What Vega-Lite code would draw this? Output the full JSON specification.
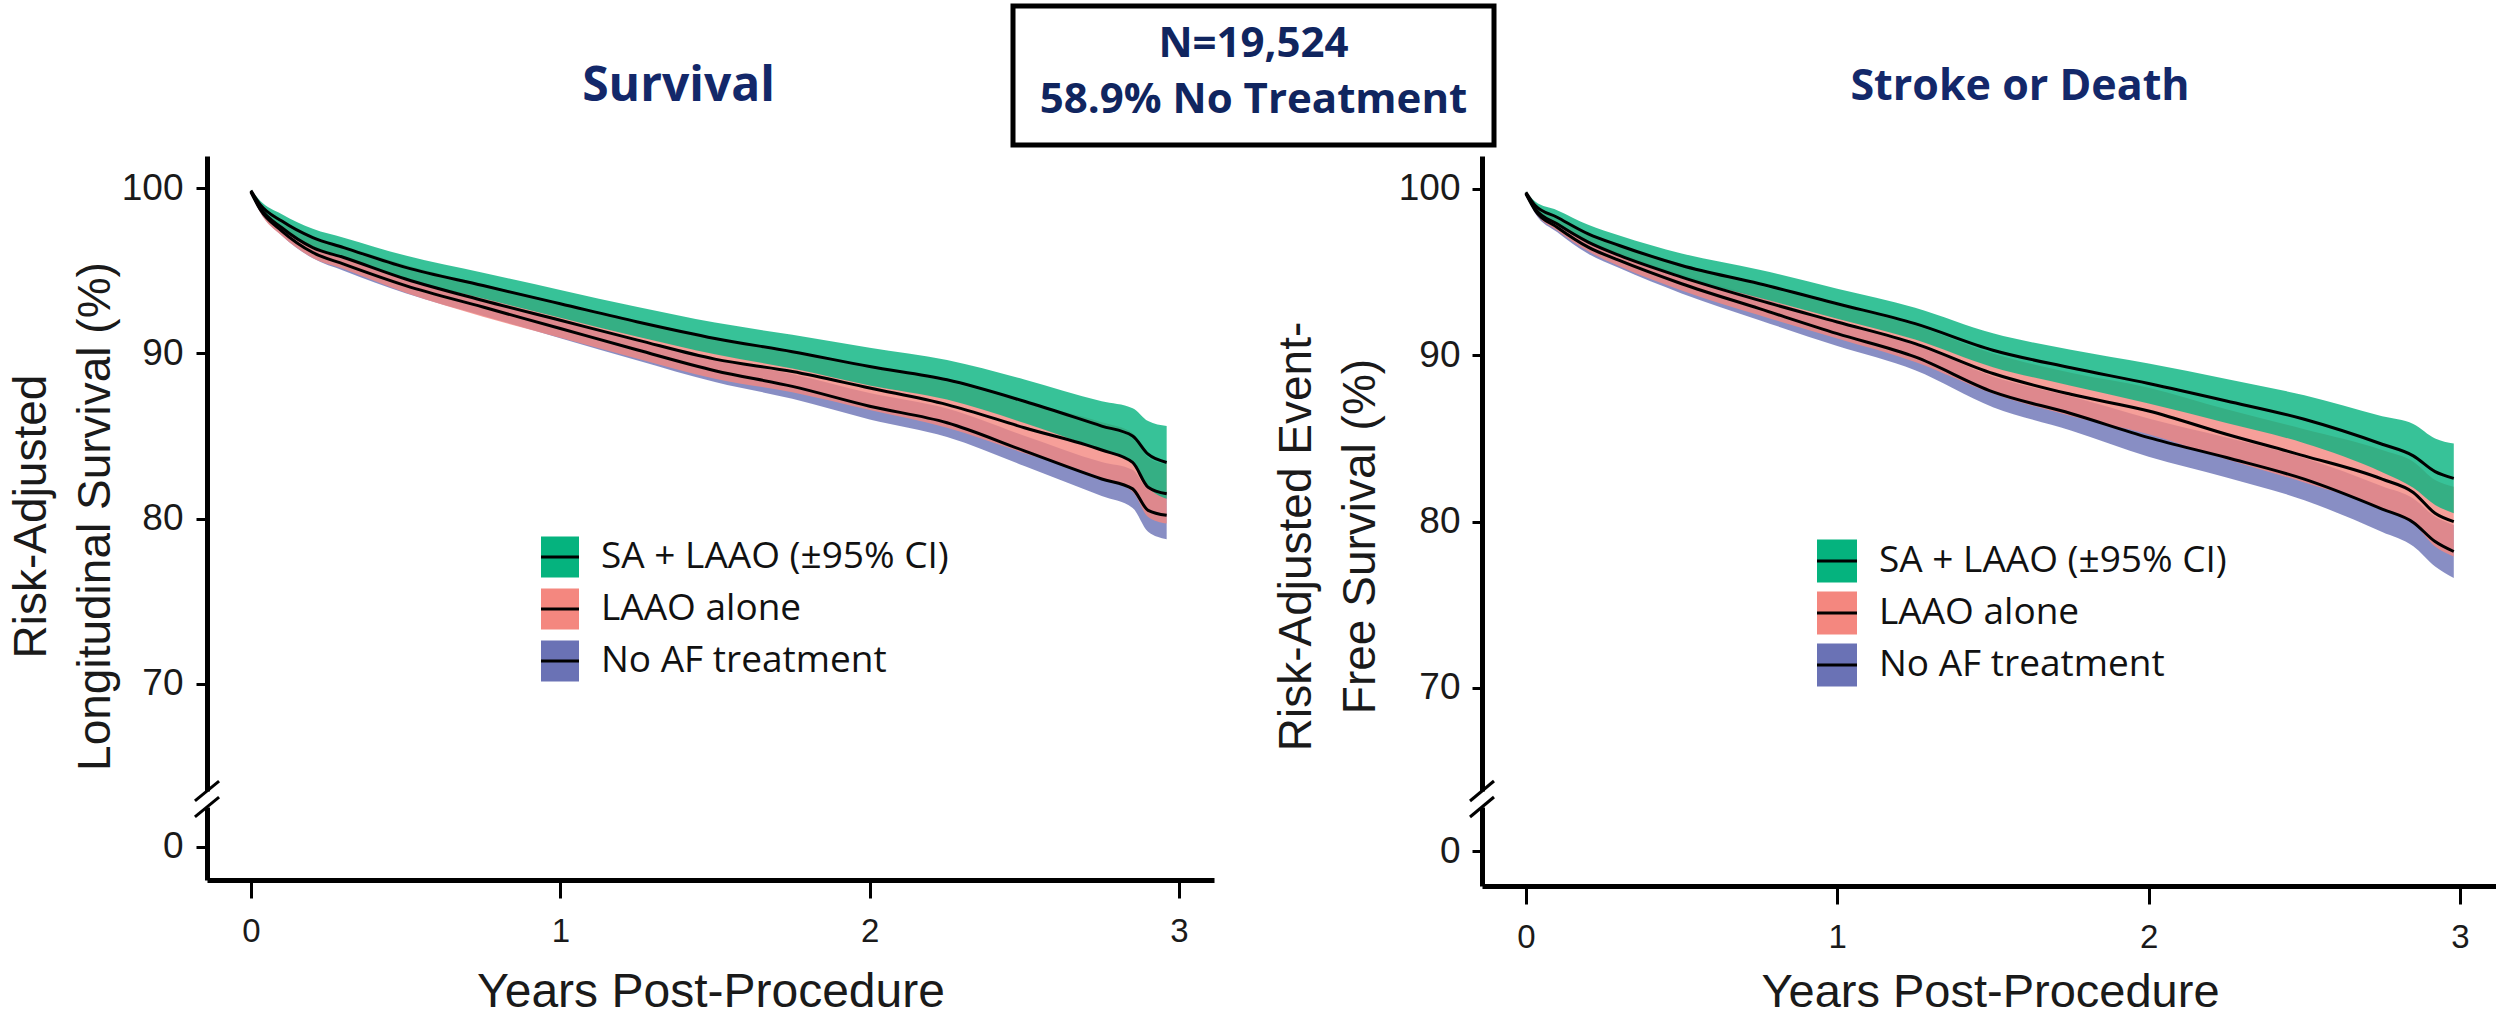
{
  "$schema": "https://vega.github.io/schema/vega-lite/v6.json",
  "padding": {"left": 8, "top": 3, "right": 0, "bottom": 0},
  "config": {
    "view": {"stroke": null},
    "font": "Liberation Sans",
    "axis": {"labelFont": "Liberation Sans", "titleFont": "Liberation Sans", "labelColor": "#1a1a1a", "titleColor": "#1a1a1a", "domainColor": "#000", "tickColor": "#000", "titleFontWeight": "normal", "grid": false, "labelFlush": false, "labelOverlap": false}
  },
  "datasets": {
    "surv": [
      {"group": "No AF treatment", "t": 0, "mid": 99.75, "lo": 99.69, "hi": 99.81},
      {"group": "No AF treatment", "t": 0.03, "mid": 98.7, "lo": 98.53, "hi": 98.87},
      {"group": "No AF treatment", "t": 0.1, "mid": 97.4, "lo": 97.11, "hi": 97.69},
      {"group": "No AF treatment", "t": 0.2, "mid": 96.1, "lo": 95.75, "hi": 96.45},
      {"group": "No AF treatment", "t": 0.3, "mid": 95.4, "lo": 95.0, "hi": 95.8},
      {"group": "No AF treatment", "t": 0.5, "mid": 94.1, "lo": 93.64, "hi": 94.56},
      {"group": "No AF treatment", "t": 0.75, "mid": 92.8, "lo": 92.28, "hi": 93.32},
      {"group": "No AF treatment", "t": 1, "mid": 91.5, "lo": 90.92, "hi": 92.08},
      {"group": "No AF treatment", "t": 1.25, "mid": 90.2, "lo": 89.57, "hi": 90.83},
      {"group": "No AF treatment", "t": 1.5, "mid": 88.95, "lo": 88.26, "hi": 89.64},
      {"group": "No AF treatment", "t": 1.75, "mid": 88, "lo": 87.25, "hi": 88.75},
      {"group": "No AF treatment", "t": 2, "mid": 86.8, "lo": 86.0, "hi": 87.6},
      {"group": "No AF treatment", "t": 2.25, "mid": 85.8, "lo": 84.94, "hi": 86.66},
      {"group": "No AF treatment", "t": 2.5, "mid": 84.1, "lo": 83.18, "hi": 85.02},
      {"group": "No AF treatment", "t": 2.75, "mid": 82.4, "lo": 81.37, "hi": 83.43},
      {"group": "No AF treatment", "t": 2.85, "mid": 81.8, "lo": 80.65, "hi": 82.95},
      {"group": "No AF treatment", "t": 2.9, "mid": 80.5, "lo": 79.2, "hi": 81.8},
      {"group": "No AF treatment", "t": 2.96, "mid": 80.2, "lo": 78.75, "hi": 81.65},
      {"group": "LAAO alone", "t": 0, "mid": 99.8, "lo": 99.73, "hi": 99.87},
      {"group": "LAAO alone", "t": 0.03, "mid": 98.8, "lo": 98.52, "hi": 99.08},
      {"group": "LAAO alone", "t": 0.1, "mid": 97.6, "lo": 97.11, "hi": 98.09},
      {"group": "LAAO alone", "t": 0.2, "mid": 96.4, "lo": 95.77, "hi": 97.03},
      {"group": "LAAO alone", "t": 0.3, "mid": 95.8, "lo": 95.1, "hi": 96.5},
      {"group": "LAAO alone", "t": 0.5, "mid": 94.5, "lo": 93.66, "hi": 95.34},
      {"group": "LAAO alone", "t": 0.75, "mid": 93.2, "lo": 92.22, "hi": 94.18},
      {"group": "LAAO alone", "t": 1, "mid": 92, "lo": 90.95, "hi": 93.05},
      {"group": "LAAO alone", "t": 1.25, "mid": 90.8, "lo": 89.68, "hi": 91.92},
      {"group": "LAAO alone", "t": 1.5, "mid": 89.65, "lo": 88.46, "hi": 90.84},
      {"group": "LAAO alone", "t": 1.75, "mid": 88.9, "lo": 87.64, "hi": 90.16},
      {"group": "LAAO alone", "t": 2, "mid": 87.9, "lo": 86.57, "hi": 89.23},
      {"group": "LAAO alone", "t": 2.25, "mid": 86.9, "lo": 85.5, "hi": 88.3},
      {"group": "LAAO alone", "t": 2.5, "mid": 85.5, "lo": 83.96, "hi": 87.04},
      {"group": "LAAO alone", "t": 2.75, "mid": 84.15, "lo": 82.47, "hi": 85.83},
      {"group": "LAAO alone", "t": 2.85, "mid": 83.4, "lo": 81.62, "hi": 85.18},
      {"group": "LAAO alone", "t": 2.9, "mid": 81.9, "lo": 80.1, "hi": 83.7},
      {"group": "LAAO alone", "t": 2.96, "mid": 81.5, "lo": 79.7, "hi": 83.3},
      {"group": "SA + LAAO", "t": 0, "mid": 99.85, "lo": 99.79, "hi": 99.91},
      {"group": "SA + LAAO", "t": 0.03, "mid": 99, "lo": 98.76, "hi": 99.24},
      {"group": "SA + LAAO", "t": 0.1, "mid": 98, "lo": 97.58, "hi": 98.42},
      {"group": "SA + LAAO", "t": 0.2, "mid": 97, "lo": 96.46, "hi": 97.54},
      {"group": "SA + LAAO", "t": 0.3, "mid": 96.4, "lo": 95.8, "hi": 97.0},
      {"group": "SA + LAAO", "t": 0.5, "mid": 95.2, "lo": 94.48, "hi": 95.92},
      {"group": "SA + LAAO", "t": 0.75, "mid": 94.1, "lo": 93.32, "hi": 94.88},
      {"group": "SA + LAAO", "t": 1, "mid": 93, "lo": 92.16, "hi": 93.84},
      {"group": "SA + LAAO", "t": 1.25, "mid": 91.9, "lo": 91.0, "hi": 92.8},
      {"group": "SA + LAAO", "t": 1.5, "mid": 90.9, "lo": 89.94, "hi": 91.86},
      {"group": "SA + LAAO", "t": 1.75, "mid": 90.1, "lo": 89.08, "hi": 91.12},
      {"group": "SA + LAAO", "t": 2, "mid": 89.2, "lo": 88.06, "hi": 90.34},
      {"group": "SA + LAAO", "t": 2.25, "mid": 88.4, "lo": 87.2, "hi": 89.6},
      {"group": "SA + LAAO", "t": 2.5, "mid": 87.1, "lo": 85.78, "hi": 88.42},
      {"group": "SA + LAAO", "t": 2.75, "mid": 85.6, "lo": 84.1, "hi": 87.1},
      {"group": "SA + LAAO", "t": 2.85, "mid": 85, "lo": 83.32, "hi": 86.68},
      {"group": "SA + LAAO", "t": 2.9, "mid": 83.9, "lo": 81.9, "hi": 85.9},
      {"group": "SA + LAAO", "t": 2.96, "mid": 83.4, "lo": 81.2, "hi": 85.6}
    ],
    "strk": [
      {"group": "No AF treatment", "t": 0, "mid": 99.7, "lo": 99.64, "hi": 99.76},
      {"group": "No AF treatment", "t": 0.03, "mid": 98.7, "lo": 98.53, "hi": 98.87},
      {"group": "No AF treatment", "t": 0.1, "mid": 97.7, "lo": 97.41, "hi": 97.99},
      {"group": "No AF treatment", "t": 0.2, "mid": 96.5, "lo": 96.1, "hi": 96.9},
      {"group": "No AF treatment", "t": 0.3, "mid": 95.7, "lo": 95.24, "hi": 96.16},
      {"group": "No AF treatment", "t": 0.5, "mid": 94.3, "lo": 93.72, "hi": 94.88},
      {"group": "No AF treatment", "t": 0.75, "mid": 92.8, "lo": 92.11, "hi": 93.49},
      {"group": "No AF treatment", "t": 1, "mid": 91.3, "lo": 90.55, "hi": 92.05},
      {"group": "No AF treatment", "t": 1.25, "mid": 89.9, "lo": 89.1, "hi": 90.7},
      {"group": "No AF treatment", "t": 1.5, "mid": 87.8, "lo": 86.88, "hi": 88.72},
      {"group": "No AF treatment", "t": 1.75, "mid": 86.5, "lo": 85.47, "hi": 87.53},
      {"group": "No AF treatment", "t": 2, "mid": 85.05, "lo": 83.9, "hi": 86.2},
      {"group": "No AF treatment", "t": 2.25, "mid": 83.85, "lo": 82.65, "hi": 85.05},
      {"group": "No AF treatment", "t": 2.5, "mid": 82.55, "lo": 81.28, "hi": 83.82},
      {"group": "No AF treatment", "t": 2.75, "mid": 80.75, "lo": 79.37, "hi": 82.13},
      {"group": "No AF treatment", "t": 2.85, "mid": 79.95, "lo": 78.51, "hi": 81.39},
      {"group": "No AF treatment", "t": 2.92, "mid": 78.8, "lo": 77.3, "hi": 80.3},
      {"group": "No AF treatment", "t": 2.98, "mid": 78.2, "lo": 76.6, "hi": 79.8},
      {"group": "LAAO alone", "t": 0, "mid": 99.75, "lo": 99.7, "hi": 99.8},
      {"group": "LAAO alone", "t": 0.03, "mid": 98.8, "lo": 98.6, "hi": 99},
      {"group": "LAAO alone", "t": 0.1, "mid": 97.9, "lo": 97.5, "hi": 98.3},
      {"group": "LAAO alone", "t": 0.2, "mid": 96.8, "lo": 96.25, "hi": 97.35},
      {"group": "LAAO alone", "t": 0.3, "mid": 96, "lo": 95.35, "hi": 96.65},
      {"group": "LAAO alone", "t": 0.5, "mid": 94.7, "lo": 93.9, "hi": 95.5},
      {"group": "LAAO alone", "t": 0.75, "mid": 93.3, "lo": 92.4, "hi": 94.2},
      {"group": "LAAO alone", "t": 1, "mid": 92, "lo": 91, "hi": 93},
      {"group": "LAAO alone", "t": 1.25, "mid": 90.7, "lo": 89.6, "hi": 91.8},
      {"group": "LAAO alone", "t": 1.5, "mid": 88.9, "lo": 87.7, "hi": 90.1},
      {"group": "LAAO alone", "t": 1.75, "mid": 87.65, "lo": 86.35, "hi": 88.95},
      {"group": "LAAO alone", "t": 2, "mid": 86.65, "lo": 85.25, "hi": 88.05},
      {"group": "LAAO alone", "t": 2.25, "mid": 85.25, "lo": 83.75, "hi": 86.75},
      {"group": "LAAO alone", "t": 2.5, "mid": 83.95, "lo": 82.35, "hi": 85.55},
      {"group": "LAAO alone", "t": 2.75, "mid": 82.55, "lo": 80.8, "hi": 84.3},
      {"group": "LAAO alone", "t": 2.85, "mid": 81.75, "lo": 79.9, "hi": 83.6},
      {"group": "LAAO alone", "t": 2.92, "mid": 80.5, "lo": 78.5, "hi": 82.5},
      {"group": "LAAO alone", "t": 2.98, "mid": 80, "lo": 77.9, "hi": 82.1},
      {"group": "SA + LAAO", "t": 0, "mid": 99.8, "lo": 99.74, "hi": 99.86},
      {"group": "SA + LAAO", "t": 0.03, "mid": 99, "lo": 98.76, "hi": 99.24},
      {"group": "SA + LAAO", "t": 0.1, "mid": 98.3, "lo": 97.88, "hi": 98.72},
      {"group": "SA + LAAO", "t": 0.2, "mid": 97.3, "lo": 96.76, "hi": 97.84},
      {"group": "SA + LAAO", "t": 0.3, "mid": 96.6, "lo": 96.0, "hi": 97.2},
      {"group": "SA + LAAO", "t": 0.5, "mid": 95.4, "lo": 94.68, "hi": 96.12},
      {"group": "SA + LAAO", "t": 0.75, "mid": 94.3, "lo": 93.46, "hi": 95.14},
      {"group": "SA + LAAO", "t": 1, "mid": 93.1, "lo": 92.2, "hi": 94.0},
      {"group": "SA + LAAO", "t": 1.25, "mid": 91.9, "lo": 90.94, "hi": 92.86},
      {"group": "SA + LAAO", "t": 1.5, "mid": 90.3, "lo": 89.28, "hi": 91.32},
      {"group": "SA + LAAO", "t": 1.75, "mid": 89.25, "lo": 88.17, "hi": 90.33},
      {"group": "SA + LAAO", "t": 2, "mid": 88.3, "lo": 87.1, "hi": 89.5},
      {"group": "SA + LAAO", "t": 2.25, "mid": 87.25, "lo": 85.93, "hi": 88.57},
      {"group": "SA + LAAO", "t": 2.5, "mid": 86.15, "lo": 84.71, "hi": 87.59},
      {"group": "SA + LAAO", "t": 2.75, "mid": 84.65, "lo": 82.97, "hi": 86.33},
      {"group": "SA + LAAO", "t": 2.85, "mid": 83.95, "lo": 82.03, "hi": 85.87},
      {"group": "SA + LAAO", "t": 2.92, "mid": 83, "lo": 81.0, "hi": 85.0},
      {"group": "SA + LAAO", "t": 2.98, "mid": 82.6, "lo": 80.5, "hi": 84.7}
    ]
  },
  "vconcat": [
    {
      "hconcat": [
        {
          "width": 803, "height": 139,
          "data": {"values": [{"title": "Survival"}]},
          "mark": {"type": "text", "font": "Open Sans", "fontWeight": "bold", "fontSize": 48, "color": "#13286a", "baseline": "middle", "dx": 70, "dy": 11},
          "encoding": {"text": {"field": "title"}}
        },
        {
          "width": 481, "height": 139,
          "view": {"stroke": "#000", "strokeWidth": 5},
          "data": {"values": [{"line": 1, "text": "N=19,524"}, {"line": 2, "text": "58.9% No Treatment"}]},
          "mark": {"type": "text", "font": "Open Sans", "fontWeight": "bold", "fontSize": 42, "color": "#10255f", "baseline": "middle", "dy": -3.5},
          "encoding": {
            "y": {"field": "line", "type": "ordinal", "axis": null, "scale": {"type": "point", "padding": 0.741}},
            "text": {"field": "text"}
          }
        },
        {
          "width": 1002, "height": 139,
          "data": {"values": [{"title": "Stroke or Death"}]},
          "mark": {"type": "text", "font": "Open Sans", "fontWeight": "bold", "fontSize": 43, "color": "#13286a", "baseline": "middle", "dx": 22, "dy": 11},
          "encoding": {"text": {"field": "title"}}
        }
      ],
      "spacing": 0
    },
    {
      "hconcat": [
        {
          "vconcat": [
            {
              "width": 1007, "height": 635,
              "layer": [
                {
                  "data": {"name": "surv"},
                  "mark": {"type": "area", "interpolate": "monotone", "fillOpacity": 0.8},
                  "encoding": {
                    "x": {"field": "t", "type": "quantitative", "scale": {"domain": [-0.142, 3.113], "nice": false, "zero": false}, "axis": null},
                    "y": {"field": "lo", "type": "quantitative", "scale": {"domain": [63.52, 101.94], "nice": false, "zero": false},
                          "axis": {"values": [70, 80, 90, 100], "title": ["Risk-Adjusted", "Longitudinal Survival (%)"], "tickSize": 11, "tickWidth": 3, "domainWidth": 5, "labelFontSize": 37, "labelPadding": 13, "minExtent": 86, "maxExtent": 86, "titleFontSize": 46, "titleLineHeight": 64, "titlePadding": 2, "titleY": 360}},
                    "y2": {"field": "hi"},
                    "fill": {"field": "group", "type": "nominal",
                             "scale": {"domain": ["SA + LAAO", "LAAO alone", "No AF treatment"], "range": ["#05b37e", "#f4877f", "#6a72b5"]},
                             "legend": {"orient": "none", "legendX": 332.5, "legendY": 380.5, "title": null, "padding": 0, "rowPadding": -3, "symbolType": "M-1,0H1V-1.079H-1V1.079H1V0Z", "symbolSize": 1444, "symbolStrokeWidth": 3, "symbolDash": [38, 1000], "symbolOpacity": 1, "labelFont": "Open Sans", "labelFontSize": 37, "labelColor": "#111", "labelOffset": 20.5, "labelLimit": 800, "labelExpr": "datum.label == 'SA + LAAO' ? 'SA + LAAO (±95% CI)' : datum.label", "encode": {"symbols": {"update": {"fillOpacity": {"value": 1}}}}}}
                  }
                },
                {
                  "data": {"name": "surv"},
                  "mark": {"type": "line", "interpolate": "monotone", "strokeWidth": 3},
                  "encoding": {
                    "x": {"field": "t", "type": "quantitative"},
                    "y": {"field": "mid", "type": "quantitative"},
                    "stroke": {"field": "group", "type": "nominal",
                               "scale": {"domain": ["SA + LAAO", "LAAO alone", "No AF treatment"], "range": ["#000", "#000", "#000"]},
                               "legend": {"orient": "none", "legendX": 332.5, "legendY": 380.5, "title": null, "padding": 0, "rowPadding": -3, "symbolType": "M-1,0H1V-1.079H-1V1.079H1V0Z", "symbolSize": 1444, "symbolStrokeWidth": 3, "symbolDash": [38, 1000], "symbolOpacity": 1, "labelFont": "Open Sans", "labelFontSize": 37, "labelColor": "#111", "labelOffset": 20.5, "labelLimit": 800, "labelExpr": "datum.label == 'SA + LAAO' ? 'SA + LAAO (±95% CI)' : datum.label", "encode": {"symbols": {"update": {"fillOpacity": {"value": 1}}}}}}
                  }
                },
                {
                  "data": {"values": [{}]},
                  "mark": {"type": "rule", "strokeWidth": 3, "color": "#000"},
                  "encoding": {"x": {"datum": -0.181}, "x2": {"datum": -0.103}, "y": {"datum": 62.92}, "y2": {"datum": 64.12}}
                }
              ]
            },
            {
              "width": 1007, "height": 73,
              "data": {"values": [{}]},
              "mark": {"type": "rule", "strokeWidth": 3, "color": "#000"},
              "encoding": {
                "x": {"datum": -0.181, "type": "quantitative", "scale": {"domain": [-0.142, 3.113], "nice": false, "zero": false},
                      "axis": {"values": [0, 1, 2, 3], "title": "Years Post-Procedure", "tickSize": 18, "tickWidth": 3, "domainWidth": 5, "labelFontSize": 33, "labelPadding": 17, "titleFontSize": 48, "titlePadding": 20}},
                "x2": {"datum": -0.103},
                "y": {"datum": 1.82, "type": "quantitative", "scale": {"domain": [-2.0, 2.42], "nice": false, "zero": false},
                      "axis": {"values": [0], "title": null, "tickSize": 11, "tickWidth": 3, "domainWidth": 5, "labelFontSize": 37, "labelPadding": 13, "minExtent": 86, "maxExtent": 86}},
                "y2": {"datum": 3.02}
              }
            }
          ],
          "spacing": 16,
          "bounds": "flush",
          "resolve": {"scale": {"x": "independent", "y": "independent"}}
        },
        {
          "vconcat": [
            {
              "width": 1016, "height": 635,
              "layer": [
                {
                  "data": {"name": "strk"},
                  "mark": {"type": "area", "interpolate": "monotone", "fillOpacity": 0.8},
                  "encoding": {
                    "x": {"field": "t", "type": "quantitative", "scale": {"domain": [-0.141, 3.122], "nice": false, "zero": false}, "axis": null},
                    "y": {"field": "lo", "type": "quantitative", "scale": {"domain": [63.8, 101.98], "nice": false, "zero": false},
                          "axis": {"values": [70, 80, 90, 100], "title": ["Risk-Adjusted Event-", "Free Survival (%)"], "tickSize": 10, "tickWidth": 3, "domainWidth": 5, "labelFontSize": 37, "labelPadding": 12, "minExtent": 82, "maxExtent": 82, "titleFontSize": 46, "titleLineHeight": 64, "titlePadding": 16, "titleY": 380}},
                    "y2": {"field": "hi"},
                    "fill": {"field": "group", "type": "nominal",
                             "scale": {"domain": ["SA + LAAO", "LAAO alone", "No AF treatment"], "range": ["#05b37e", "#f4877f", "#6a72b5"]},
                             "legend": {"orient": "none", "legendX": 333.5, "legendY": 383.5, "title": null, "padding": 0, "rowPadding": -3, "symbolType": "M-1,0H1V-1.075H-1V1.075H1V0Z", "symbolSize": 1600, "symbolStrokeWidth": 3, "symbolDash": [40, 1000], "symbolOpacity": 1, "labelFont": "Open Sans", "labelFontSize": 37, "labelColor": "#111", "labelOffset": 20.5, "labelLimit": 800, "labelExpr": "datum.label == 'SA + LAAO' ? 'SA + LAAO (±95% CI)' : datum.label", "encode": {"symbols": {"update": {"fillOpacity": {"value": 1}}}}}}
                  }
                },
                {
                  "data": {"name": "strk"},
                  "mark": {"type": "line", "interpolate": "monotone", "strokeWidth": 3},
                  "encoding": {
                    "x": {"field": "t", "type": "quantitative"},
                    "y": {"field": "mid", "type": "quantitative"},
                    "stroke": {"field": "group", "type": "nominal",
                               "scale": {"domain": ["SA + LAAO", "LAAO alone", "No AF treatment"], "range": ["#000", "#000", "#000"]},
                               "legend": {"orient": "none", "legendX": 333.5, "legendY": 383.5, "title": null, "padding": 0, "rowPadding": -3, "symbolType": "M-1,0H1V-1.075H-1V1.075H1V0Z", "symbolSize": 1600, "symbolStrokeWidth": 3, "symbolDash": [40, 1000], "symbolOpacity": 1, "labelFont": "Open Sans", "labelFontSize": 37, "labelColor": "#111", "labelOffset": 20.5, "labelLimit": 800, "labelExpr": "datum.label == 'SA + LAAO' ? 'SA + LAAO (±95% CI)' : datum.label", "encode": {"symbols": {"update": {"fillOpacity": {"value": 1}}}}}}
                  }
                },
                {
                  "data": {"values": [{}]},
                  "mark": {"type": "rule", "strokeWidth": 3, "color": "#000"},
                  "encoding": {"x": {"datum": -0.1795}, "x2": {"datum": -0.1025}, "y": {"datum": 63.2}, "y2": {"datum": 64.4}}
                }
              ]
            },
            {
              "width": 1016, "height": 79,
              "data": {"values": [{}]},
              "mark": {"type": "rule", "strokeWidth": 3, "color": "#000"},
              "encoding": {
                "x": {"datum": -0.1795, "type": "quantitative", "scale": {"domain": [-0.141, 3.122], "nice": false, "zero": false},
                      "axis": {"values": [0, 1, 2, 3], "title": "Years Post-Procedure", "tickSize": 18, "tickWidth": 3, "domainWidth": 5, "labelFontSize": 33, "labelPadding": 17, "titleFontSize": 47, "titlePadding": 15}},
                "x2": {"datum": -0.1025},
                "y": {"datum": 2.05, "type": "quantitative", "scale": {"domain": [-2.1, 2.65], "nice": false, "zero": false},
                      "axis": {"values": [0], "title": null, "tickSize": 10, "tickWidth": 3, "domainWidth": 5, "labelFontSize": 37, "labelPadding": 12, "minExtent": 82, "maxExtent": 82}},
                "y2": {"datum": 3.25}
              }
            }
          ],
          "spacing": 16,
          "bounds": "flush",
          "resolve": {"scale": {"x": "independent", "y": "independent"}}
        }
      ],
      "spacing": 59,
      "resolve": {"scale": {"x": "independent", "y": "independent", "fill": "independent", "stroke": "independent"}}
    }
  ],
  "spacing": 8,
  "resolve": {"scale": {"x": "independent", "y": "independent", "fill": "independent", "stroke": "independent"}}
}
